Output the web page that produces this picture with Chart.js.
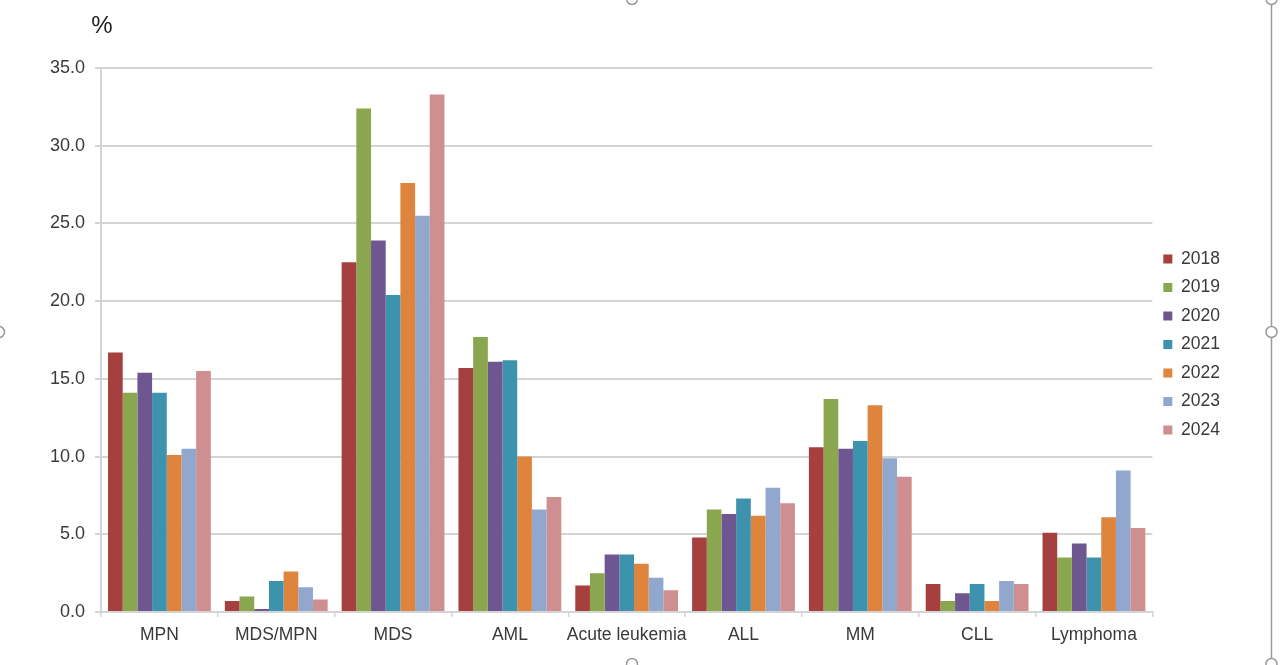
<!DOCTYPE html>
<html>
<head>
<meta charset="utf-8">
<script src="https://cdn.jsdelivr.net/npm/chart.js@4"></script>
<style>
  html, body { margin: 0; padding: 0; background: #fff; }
  #wrap { width: 1280px; height: 665px; position: relative; }
</style>
</head>
<body>
<div id="wrap"><canvas id="myChart" width="1280" height="665"></canvas></div>
<script>
const categories = ['MPN', 'MDS/MPN', 'MDS', 'AML', 'Acute leukemia', 'ALL', 'MM', 'CLL', 'Lymphoma']
const years = ['2018', '2019', '2020', '2021', '2022', '2023', '2024']
const yTicks = [0, 5, 10, 15, 20, 25, 30, 35]

// one array per year, in category order
const v2018 = [16.7, 0.7, 22.5, 15.7, 1.7, 4.8, 10.6, 1.8, 5.1]
const v2019 = [14.1, 1.0, 32.4, 17.7, 2.5, 6.6, 13.7, 0.7, 3.5]
const v2020 = [15.4, 0.2, 23.9, 16.1, 3.7, 6.3, 10.5, 1.2, 4.4]
const v2021 = [14.1, 2.0, 20.4, 16.2, 3.7, 7.3, 11.0, 1.8, 3.5]
const v2022 = [10.1, 2.6, 27.6, 10.0, 3.1, 6.2, 13.3, 0.7, 6.1]
const v2023 = [10.5, 1.6, 25.5, 6.6, 2.2, 8.0, 9.9, 2.0, 9.1]
const v2024 = [15.5, 0.8, 33.3, 7.4, 1.4, 7.0, 8.7, 1.8, 5.4]

const series = [v2018, v2019, v2020, v2021, v2022, v2023, v2024]
const colors = ['#a6403f', '#8aa64e', '#6e5791', '#3d93ad', '#de843d', '#91a7ce', '#cf8e8f']

const textColor = '#3a3a3a'
const gridColor = '#d4d4d4'
const font = 'Liberation Sans, Arial, sans-serif'

// "%" label above the y axis plus the selection frame seen in the picture
const extras = {
  id: 'extras',
  afterDraw(chart) {
    const c = chart.ctx
    const area = chart.chartArea
    c.save()
    c.fillStyle = '#222'
    c.font = '24px ' + font
    c.textAlign = 'center'
    c.textBaseline = 'middle'
    c.fillText('%', area.left + 1, 26)

    c.strokeStyle = '#9a9a9a'
    c.lineWidth = 1.5
    c.beginPath()
    c.moveTo(1271.5, 0)
    c.lineTo(1271.5, 660)
    c.stroke()
    c.fillStyle = '#fff'
    const handles = [[632, -1], [1271.5, 332], [632, 664], [-1, 332], [1271.5, -1], [1271.5, 664]]
    handles.forEach(([x, y]) => {
      c.beginPath()
      c.arc(x, y, 5.5, 0, Math.PI * 2)
      c.fill()
      c.stroke()
    })
    c.restore()
  }
}

new Chart(document.getElementById('myChart'), {
  type: 'bar',
  data: {
    labels: categories,
    datasets: years.map((y, i) => ({
      label: y,
      data: series[i],
      backgroundColor: colors[i],
      borderWidth: 0,
      categoryPercentage: 0.88,
      barPercentage: 1.0
    }))
  },
  options: {
    responsive: false,
    animation: false,
    devicePixelRatio: 1,
    layout: { padding: { top: 68, left: 40, right: 50, bottom: 11 } },
    plugins: {
      tooltip: { enabled: false },
      legend: {
        position: 'right',
        fullSize: false,
        // empty title only nudges the entries down a little
        title: { display: true, text: '', font: { size: 1 }, padding: { top: 8, bottom: 0 } },
        labels: {
          color: textColor,
          font: { family: font, size: 17.5 },
          boxWidth: 9,
          boxHeight: 9,
          padding: 11
        }
      }
    },
    scales: {
      x: {
        grid: {
          offset: true,
          drawOnChartArea: false,
          drawTicks: true,
          tickLength: 5,
          color: gridColor,
          lineWidth: 1.5
        },
        border: { color: gridColor, width: 2 },
        ticks: {
          color: textColor,
          font: { family: font, size: 17.5 },
          padding: 8,
          maxRotation: 0,
          autoSkip: false
        }
      },
      y: {
        min: 0,
        max: 35,
        afterBuildTicks(axis) { axis.ticks = yTicks.map(v => ({ value: v })) },
        grid: {
          color: gridColor,
          lineWidth: 2,
          tickLength: 6
        },
        border: { color: gridColor, width: 2 },
        ticks: {
          color: textColor,
          font: { family: font, size: 18 },
          padding: 10,
          callback: v => v.toFixed(1)
        }
      }
    }
  },
  plugins: [extras]
})
</script>
</body>
</html>
